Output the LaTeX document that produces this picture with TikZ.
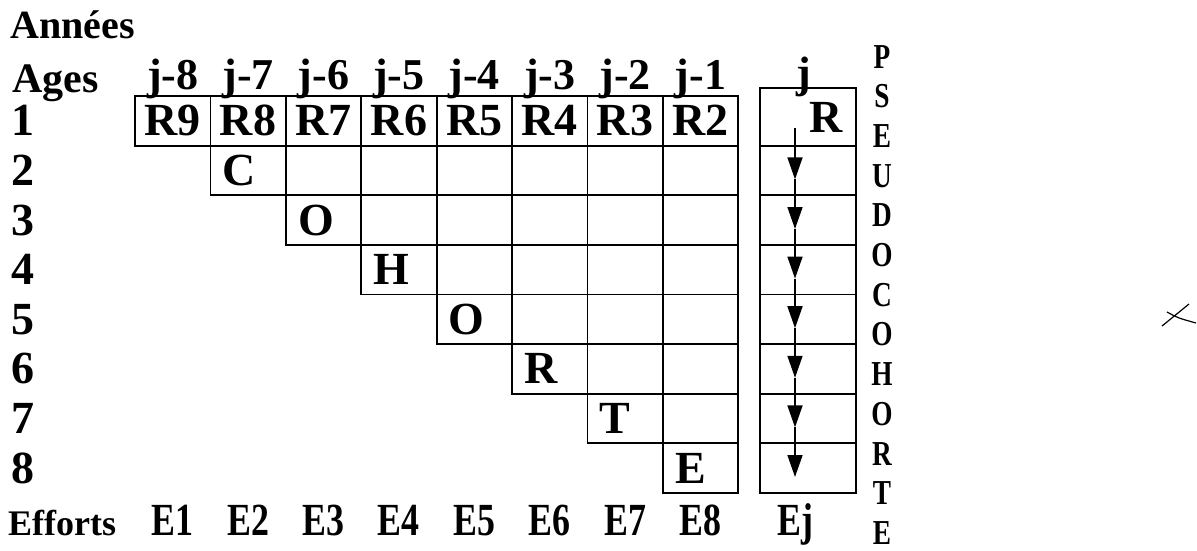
\documentclass[tikz,border=0pt]{standalone}
\usepackage{fontspec}
\setmainfont{Liberation Serif}
\newfontfamily\narrowfont[FakeStretch=0.78]{Liberation Serif}
\usetikzlibrary{arrows.meta}

\begin{document}
\begin{tikzpicture}[x=1pt, y=-1pt,
  cell/.style={draw, line width=1.8pt, minimum width=75.4pt, minimum height=49.6pt, inner sep=0pt, outer sep=0pt},
  txt/.style={font=\fontsize{46}{46}\selectfont\bfseries, inner sep=0pt},
  hdr/.style={font=\fontsize{44}{44}\selectfont\bfseries, inner sep=0pt, anchor=base},
  eff/.style={font=\narrowfont\fontsize{46}{46}\selectfont\bfseries, inner sep=0pt, anchor=base},
  side/.style={font=\narrowfont\fontsize{35}{35}\selectfont\bfseries, inner sep=0pt, anchor=base},
  flow/.style={line width=1.6pt, -{Triangle[length=22pt, width=15pt]}}]
  \useasboundingbox (0,0) rectangle (1197,550);
  % titles of the two axes
  \node[txt, anchor=base west, font=\fontsize{40}{40}\selectfont\bfseries] (annees) at (10,38) {Années};
  \node[txt, anchor=base west, font=\fontsize{42}{42}\selectfont\bfseries] (ages) at (12,92) {Ages};
  % staircase of cells: age r, year column c
  \foreach \r in {1,...,8}
    \foreach \c in {\r,...,8}
      \node[cell] (c\r-\c) at ({135+75.4*(\c-0.5)},{96+49.6*(\r-0.5)}) {};
  % year headers and first row
  \foreach \c/\t in {1/j-8,2/j-7,3/j-6,4/j-5,5/j-4,6/j-3,7/j-2,8/j-1}
    \node[hdr] (h\c) at ({135+75.4*(\c-0.5)},89) {\t};
  \foreach \c/\t in {1/R9,2/R8,3/R7,4/R6,5/R5,6/R4,7/R3,8/R2}
    \node[txt, anchor=base] (r\c) at ([yshift=-15pt]c1-\c.center) {\t};
  % the cohort along the diagonal
  \foreach \r/\t in {2/C,3/O,4/H,5/O,6/R,7/T,8/E}
    \node[txt, anchor=base west] (l\r) at ([xshift=12pt, yshift=-15pt]c\r-\r.west) {\t};
  % age labels
  \foreach \r in {1,...,8}
    \node[txt, anchor=base west] (a\r) at (11,{96+49.6*(\r-0.5)+15}) {\r};
  % efforts
  \node[txt, anchor=base west, font=\fontsize{36}{36}\selectfont\bfseries] (efforts) at (8,535) {Efforts};
  \foreach \c in {1,...,8}
    \node[eff] (e\c) at ({135+75.4*(\c-0.5)},535) {E\c};
  % year j: pseudo-cohort column
  \node[cell, minimum width=96pt, minimum height=57.6pt] (p1) at (808,116.8) {};
  \foreach \r in {2,...,8}
    \node[cell, minimum width=96pt] (p\r) at (808,{96+49.6*(\r-0.5)}) {};
  \node[hdr] (hj) at (804,87) {j};
  \node[txt, anchor=base east] (rj) at (843,132) {R};
  \node[eff] (ej) at (795,535) {Ej};
  \coordinate (f1) at (795,128);
  \foreach \r in {2,...,8}
    \coordinate (f\r) at (795,{96+49.6*(\r-0.5)+9});
  \foreach \r [remember=\r as \q (initially 1)] in {2,...,8}
    \draw[flow] (f\q) -- (f\r);
  % vertical word
  \foreach \t [count=\i] in {P,S,E,U,D,O,C,O,H,O,R,T,E}
    \node[side] (s\i) at (882,{68+39.7*(\i-1)}) {\t};
  % pencil mark
  \draw[line width=1.2pt] (1162,326) -- (1189,304);
  \draw[line width=1.2pt] (1167,312) .. controls (1178,318) .. (1196,323);
\end{tikzpicture}
\end{document}
